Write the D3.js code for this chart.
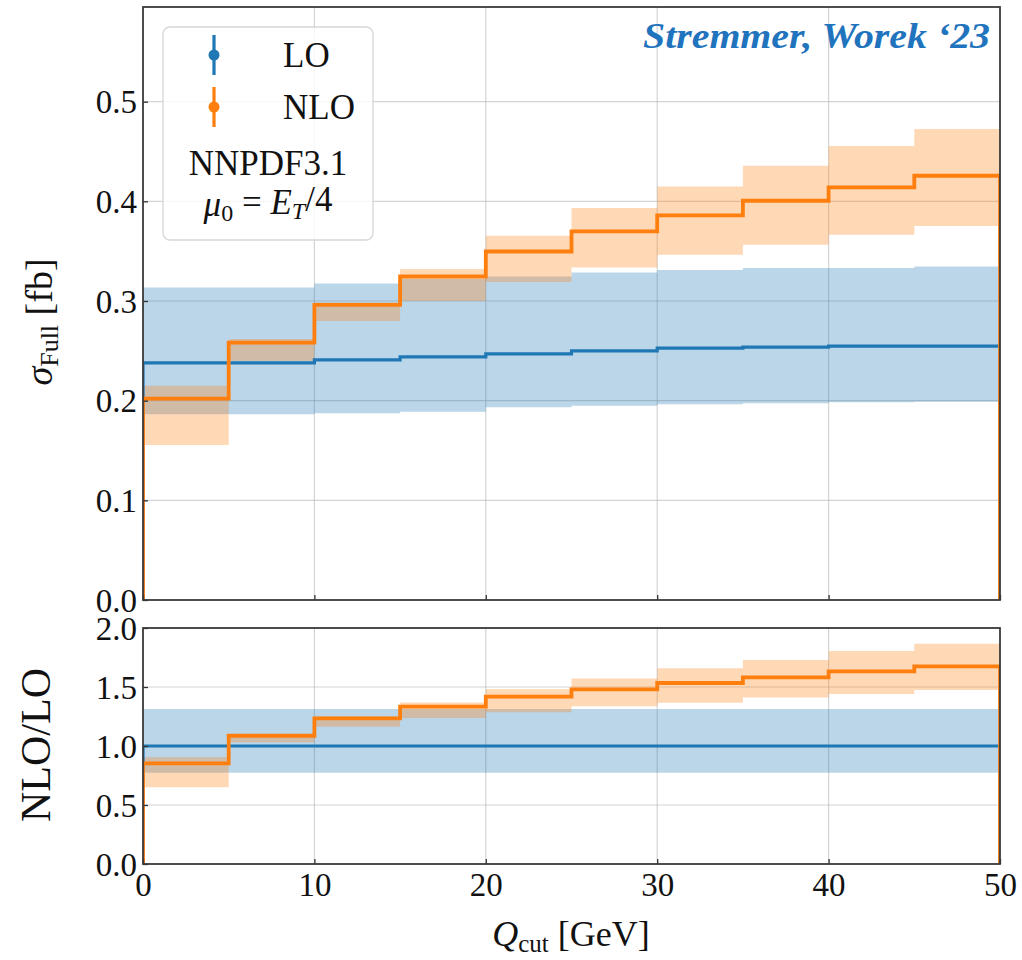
<!DOCTYPE html>
<html>
<head>
<meta charset="utf-8">
<script src="https://cdn.jsdelivr.net/npm/d3@7"></script>
<style>
  body { margin: 0; background: #fff; }
  svg text { font-family: "Liberation Serif", "DejaVu Serif", serif; fill: #111; }
</style>
</head>
<body>
<div id="graf"></div>
<script>
// bordes de los bins en Q_cut [GeV]
const edges = [0, 5, 10, 15, 20, 25, 30, 35, 40, 45, 50]

// panel superior: sigma_Full [fb]
const loCentral = [0.238, 0.238, 0.241, 0.244, 0.247, 0.250, 0.2527, 0.2537, 0.2547, 0.2547]
const loUp      = [0.3136, 0.3136, 0.3176, 0.322, 0.3246, 0.3287, 0.331, 0.333, 0.333, 0.3347]
const loDown    = [0.1864, 0.1864, 0.1874, 0.189, 0.1933, 0.1948, 0.1964, 0.1974, 0.1984, 0.199]
const nloCentral = [0.202, 0.2583, 0.2962, 0.3246, 0.3497, 0.3698, 0.3859, 0.4006, 0.414, 0.4257]
const nloUp      = [0.2149, 0.262, 0.2985, 0.332, 0.3655, 0.3932, 0.415, 0.4357, 0.4555, 0.4726]
const nloDown    = [0.1556, 0.240, 0.280, 0.300, 0.319, 0.3337, 0.3464, 0.3564, 0.3665, 0.3752]

// panel inferior: NLO/LO
const ratioLo     = [1, 1, 1, 1, 1, 1, 1, 1, 1, 1]
const ratioLoUp   = [1.314, 1.314, 1.314, 1.314, 1.314, 1.314, 1.314, 1.314, 1.314, 1.314]
const ratioLoDown = [0.774, 0.774, 0.774, 0.774, 0.774, 0.774, 0.774, 0.774, 0.774, 0.774]
const ratioNlo     = [0.852, 1.087, 1.234, 1.333, 1.418, 1.48, 1.534, 1.582, 1.633, 1.675]
const ratioNloUp   = [0.904, 1.10, 1.25, 1.369, 1.48, 1.573, 1.658, 1.729, 1.805, 1.867]
const ratioNloDown = [0.650, 1.031, 1.164, 1.237, 1.286, 1.336, 1.367, 1.41, 1.441, 1.475]

// ticks
const xTicks = [0, 10, 20, 30, 40, 50]
const yTicksTop = [0.0, 0.1, 0.2, 0.3, 0.4, 0.5]
const yTicksBot = [0.0, 0.5, 1.0, 1.5, 2.0]

const colLO = "#1f77b4"
const colNLO = "#ff7f0e"

const anchoTotal = 1022
const altoTotal = 960

const svg = d3.select("#graf")
  .append("svg")
  .attr("width", anchoTotal)
  .attr("height", altoTotal)

// Escaladores
const x = d3.scaleLinear().domain([0, 50]).range([143, 1000])
const yTop = d3.scaleLinear().domain([0, 0.595]).range([600, 7])
const yBot = d3.scaleLinear().domain([0, 2.0]).range([864, 628])

// dibuja un panel completo
function panel(id, y, yTicks, lo, loU, loD, nlo, nloU, nloD, xLabels) {
  const x0 = x.range()[0], x1 = x.range()[1]
  const yA = y.range()[1], yB = y.range()[0]

  svg.append("clipPath").attr("id", id)
    .append("rect").attr("x", x0).attr("y", yA).attr("width", x1 - x0).attr("height", yB - yA)

  const g = svg.append("g")

  // rejilla
  g.append("g").selectAll("line").data(xTicks.slice(1, -1)).join("line")
    .attr("x1", d => x(d)).attr("x2", d => x(d)).attr("y1", yA).attr("y2", yB)
    .attr("stroke", "#b0b0b0").attr("stroke-opacity", 0.55).attr("stroke-width", 1.2)
  g.append("g").selectAll("line").data(yTicks.slice(1)).join("line")
    .attr("x1", x0).attr("x2", x1).attr("y1", d => y(d)).attr("y2", d => y(d))
    .attr("stroke", "#b0b0b0").attr("stroke-opacity", 0.55).attr("stroke-width", 1.2)

  const plot = g.append("g").attr("clip-path", `url(#${id})`)

  // bandas
  const band = (up, down) => {
    const pts = up.map((u, i) => ({ x: edges[i], u: u, d: down[i] }))
    pts.push({ x: edges[edges.length - 1], u: up[up.length - 1], d: down[down.length - 1] })
    return d3.area().curve(d3.curveStepAfter)
      .x(p => x(p.x)).y0(p => y(p.d)).y1(p => y(p.u))(pts)
  }
  plot.append("path").attr("d", band(loU, loD)).attr("fill", colLO).attr("fill-opacity", 0.3)
  plot.append("path").attr("d", band(nloU, nloD)).attr("fill", colNLO).attr("fill-opacity", 0.3)

  // escalones
  const stairs = vals => {
    const pts = [[edges[0], 0]]
    vals.forEach((v, i) => { pts.push([edges[i], v]); pts.push([edges[i + 1], v]) })
    pts.push([edges[edges.length - 1], 0])
    return d3.line().x(p => x(p[0])).y(p => y(p[1]))(pts)
  }
  plot.append("path").attr("d", stairs(lo)).attr("fill", "none")
    .attr("stroke", colLO).attr("stroke-width", 3.2)
  plot.append("path").attr("d", stairs(nlo)).attr("fill", "none")
    .attr("stroke", colNLO).attr("stroke-width", 3.8)

  // ejes
  const yAxis = d3.axisLeft(y).tickValues(yTicks).tickFormat(d3.format(".1f"))
    .tickSizeInner(-5).tickSizeOuter(0).tickPadding(6)
  const ya = g.append("g").attr("transform", `translate(${x0},0)`).call(yAxis)
  ya.select(".domain").remove()
  ya.selectAll("line").attr("stroke", "#333").attr("stroke-width", 1.3)
  ya.selectAll("text").style("font-size", "33px").attr("dy", "0.34em").attr("fill", "#111")

  const xAxis = d3.axisBottom(x).tickValues(xTicks)
    .tickSizeInner(-5).tickSizeOuter(0).tickPadding(9)
    .tickFormat(xLabels ? d3.format("d") : "")
  const xa = g.append("g").attr("transform", `translate(0,${yB})`).call(xAxis)
  xa.select(".domain").remove()
  xa.selectAll("line").attr("stroke", "#333").attr("stroke-width", 1.3)
  xa.selectAll("text").style("font-size", "33px").attr("fill", "#111")

  // marco
  g.append("rect").attr("x", x0).attr("y", yA).attr("width", x1 - x0).attr("height", yB - yA)
    .attr("fill", "none").attr("stroke", "#3a3a3a").attr("stroke-width", 1.8)
}

panel("clipTop", yTop, yTicksTop, loCentral, loUp, loDown, nloCentral, nloUp, nloDown, false)
panel("clipBot", yBot, yTicksBot, ratioLo, ratioLoUp, ratioLoDown, ratioNlo, ratioNloUp, ratioNloDown, true)

// Títulos de ejes
const yl1 = svg.append("text").attr("transform", "translate(52,322) rotate(-90)")
  .attr("text-anchor", "middle").style("font-size", "38px")
yl1.append("tspan").style("font-style", "italic").text("σ")
yl1.append("tspan").attr("dy", "0.22em").style("font-size", "26px").text("Full")
yl1.append("tspan").attr("dy", "-0.15em").text(" [fb]")

svg.append("text").attr("transform", "translate(50,745) rotate(-90)")
  .attr("text-anchor", "middle").style("font-size", "42px").text("NLO/LO")

const xl = svg.append("text").attr("x", 571).attr("y", 946)
  .attr("text-anchor", "middle").style("font-size", "36px")
xl.append("tspan").style("font-style", "italic").text("Q")
xl.append("tspan").attr("dy", "0.22em").style("font-size", "25px").text("cut")
xl.append("tspan").attr("dy", "-0.15em").text(" [GeV]")

// Leyenda
const leg = svg.append("g")
leg.append("rect").attr("x", 163).attr("y", 27).attr("width", 210).attr("height", 213)
  .attr("rx", 7).attr("fill", "#fff").attr("fill-opacity", 0.8)
  .attr("stroke", "#d6d6d6").attr("stroke-width", 1.3)

const entradas = [
  { label: "LO", color: colLO, cy: 55 },
  { label: "NLO", color: colNLO, cy: 107 }
]
entradas.forEach(e => {
  leg.append("line").attr("x1", 214).attr("x2", 214).attr("y1", e.cy - 20).attr("y2", e.cy + 20)
    .attr("stroke", e.color).attr("stroke-width", 3.2)
  leg.append("circle").attr("cx", 214).attr("cy", e.cy).attr("r", 5.5).attr("fill", e.color)
  leg.append("text").attr("x", 283).attr("y", e.cy + 12).style("font-size", "35px").text(e.label)
})
leg.append("text").attr("x", 268).attr("y", 175).attr("text-anchor", "middle")
  .style("font-size", "35px").text("NNPDF3.1")
const mu = leg.append("text").attr("x", 268).attr("y", 216).attr("text-anchor", "middle")
  .style("font-size", "35px")
mu.append("tspan").style("font-style", "italic").text("μ")
mu.append("tspan").attr("dy", "0.22em").style("font-size", "24px").text("0")
mu.append("tspan").attr("dy", "-0.22em").text(" = ")
mu.append("tspan").style("font-style", "italic").text("E")
mu.append("tspan").attr("dy", "0.22em").style("font-size", "24px").style("font-style", "italic").text("T")
mu.append("tspan").attr("dy", "-0.22em").text("/4")

// Título
svg.append("text").attr("x", 990).attr("y", 48).attr("text-anchor", "end")
  .style("font-size", "36px").style("font-style", "italic").style("font-weight", "bold")
  .attr("fill", "#1f74bd").style("fill", "#1f74bd")
  .attr("textLength", 347).attr("lengthAdjust", "spacingAndGlyphs")
  .text("Stremmer, Worek ‘23")
</script>
</body>
</html>
